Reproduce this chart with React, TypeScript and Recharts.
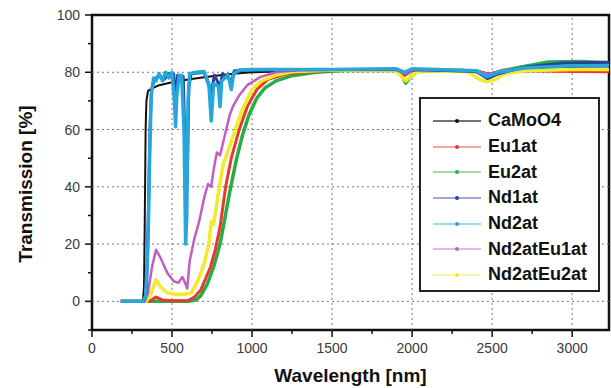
import React from 'react';
import { LineChart, Line, XAxis, YAxis, Legend, ReferenceLine, ReferenceArea } from 'recharts';

// wavelength [nm], transmission [%]
const caMoO4 = [
  [180, 0], [300, 0], [318, 0], [325, 5], [330, 30], [335, 60], [340, 70], [350, 73.5], [380, 74.5],
  [420, 75.5], [500, 76.5], [600, 77.5], [700, 78.3], [800, 79], [900, 79.6], [1000, 80], [1200, 80.4],
  [1500, 80.6], [1900, 80.8], [1950, 80], [2000, 80.8], [2400, 80.6], [2480, 79.5], [2560, 80.5],
  [2700, 81.2], [2900, 81.8], [3230, 82],
];
const eu1at = [
  [180, 0], [360, 0], [400, 1.5], [440, 0.5], [500, 0.2], [600, 0.3], [640, 1.5], [680, 4], [710, 8],
  [740, 12], [770, 18], [800, 26], [835, 40], [870, 50], [920, 60], [970, 68], [1030, 74], [1100, 77.5],
  [1200, 79.2], [1300, 80], [1500, 80.6], [1900, 80.7], [1955, 79], [2000, 80.6], [2400, 80.3],
  [2480, 78.5], [2560, 80], [2700, 80.5], [3000, 80.3], [3230, 80.2],
];
const eu2at = [
  [180, 0], [600, 0], [650, 0.5], [680, 2], [720, 6], [760, 12], [800, 20], [830, 29], [860, 38],
  [900, 49], [940, 58], [980, 65], [1030, 71], [1080, 74.5], [1150, 77], [1250, 78.8], [1400, 80],
  [1600, 80.7], [1900, 80.6], [1935, 79], [1960, 76.2], [1990, 78.5], [2030, 80.3], [2300, 80.7],
  [2400, 80.2], [2480, 79], [2560, 80.5], [2700, 82], [2850, 83.6], [3050, 83.8], [3230, 83.3],
];
const nd1at = [
  [180, 0], [325, 0], [340, 3], [352, 30], [362, 60], [372, 74], [390, 77.5], [420, 79], [450, 77.5],
  [480, 79.5], [510, 79.5], [522, 71], [535, 79], [570, 78.5], [585, 45], [595, 42], [605, 75],
  [620, 79.5], [700, 80], [745, 73], [765, 79], [800, 75], [815, 79.5], [870, 77], [890, 80.5],
  [1000, 80.8], [1500, 81], [1900, 81], [1955, 80], [2000, 81], [2400, 80.3], [2470, 77.8],
  [2540, 79.5], [2700, 81.8], [2950, 83.2], [3230, 83.5],
];
const nd2at = [
  [180, 0], [320, 0], [335, 2], [350, 20], [360, 50], [370, 72], [385, 78], [400, 77], [420, 79.5],
  [440, 77], [460, 80], [480, 78], [500, 80], [515, 70], [522, 61], [530, 72], [545, 79], [560, 79],
  [575, 60], [585, 20], [592, 30], [600, 70], [610, 79.5], [650, 80], [700, 80.3], [730, 76],
  [745, 63], [760, 76], [790, 75], [800, 68], [810, 77], [850, 79], [870, 74], [885, 79.5],
  [920, 80.8], [1000, 81], [1500, 81], [1900, 81.2], [1955, 80], [2000, 81.2], [2400, 80.5],
  [2470, 78.5], [2540, 80], [2700, 81.5], [3000, 82.3], [3230, 82.3],
];
const nd2atEu1at = [
  [180, 0], [330, 0], [350, 3], [375, 12], [400, 18], [430, 15], [470, 10], [510, 7], [540, 6.5],
  [565, 8.5], [585, 6], [595, 4.5], [610, 14], [640, 22], [670, 28], [700, 36], [725, 41], [745, 40],
  [760, 46], [780, 52], [800, 51], [830, 58], [860, 65], [880, 68], [920, 72], [970, 75.5],
  [1050, 78.3], [1150, 80], [1300, 80.8], [1900, 80.8], [1960, 79.5], [2010, 80.8], [2400, 80.7],
  [2480, 79.3], [2560, 80.7], [2700, 81.5], [2900, 82.3], [3230, 82.5],
];
const nd2atEu2at = [
  [180, 0], [340, 0], [370, 3], [400, 7.5], [430, 5], [470, 3], [520, 2.5], [580, 2.5], [620, 3],
  [660, 7], [700, 13], [730, 20], [745, 28], [760, 27], [790, 38], [820, 48], [835, 50], [860, 54],
  [895, 60], [940, 67], [1000, 74], [1060, 77], [1150, 79], [1250, 80.2], [1500, 80.8], [1900, 80.5],
  [1960, 77], [2010, 79.5], [2060, 80.5], [2350, 80.2], [2420, 77.5], [2470, 76.7], [2520, 77.5],
  [2580, 79.5], [2700, 80.5], [3000, 81], [3230, 81],
];

const seriesNames = ['CaMoO4', 'Eu1at', 'Eu2at', 'Nd1at', 'Nd2at', 'Nd2atEu1at', 'Nd2atEu2at'];
const seriesData = [caMoO4, eu1at, eu2at, nd1at, nd2at, nd2atEu1at, nd2atEu2at];
const seriesColors = ['#111111', '#e63a2e', '#27ad48', '#2a3f9e', '#27a6dc', '#c25ec2', '#f2ea2a'];
const seriesWidths = [2, 3, 3.5, 3, 3.5, 2.5, 3.5];
// draw order, last on top
const drawOrder = [0, 2, 1, 6, 5, 3, 4];

const xTicks = [0, 250, 500, 750, 1000, 1250, 1500, 1750, 2000, 2250, 2500, 2750, 3000];
const yTicks = [-10, 0, 10, 20, 30, 40, 50, 60, 70, 80, 90, 100];
const xGrid = [500, 1000, 1500, 2000, 2500, 3000];
const yGrid = [0, 20, 40, 60, 80];

const FONT = '"Liberation Sans", Arial, sans-serif';

const XTick = (props: any) => {
  const { x, y, payload } = props;
  const major = payload.value % 500 === 0;
  return (
    <g>
      <line x1={x} x2={x} y1={y} y2={y + (major ? 7 : 4)} stroke="#111" strokeWidth={1.5} />
      {major && (
        <text x={x} y={y + 23} textAnchor="middle" fontSize={14} fill="#3a3a3a" fontFamily={FONT}>
          {payload.value}
        </text>
      )}
    </g>
  );
};

const YTick = (props: any) => {
  const { x, y, payload } = props;
  const major = payload.value >= 0 && payload.value % 20 === 0;
  return (
    <g>
      <line x1={x - (major ? 7 : 4)} x2={x} y1={y} y2={y} stroke="#111" strokeWidth={1.5} />
      {major && (
        <text x={x - 12} y={y + 5} textAnchor="end" fontSize={14} fill="#3a3a3a" fontFamily={FONT}>
          {payload.value}
        </text>
      )}
    </g>
  );
};

const LegendBox = () => (
  <div
    style={{
      boxSizing: 'border-box',
      width: 181,
      height: 195,
      border: '2px solid #222',
      background: '#fff',
      paddingTop: 9,
      fontFamily: FONT,
    }}
  >
    {seriesNames.map((name, i) => (
      <div key={name} style={{ display: 'flex', alignItems: 'center', height: 25.7 }}>
        <svg width={64} height={12} style={{ marginLeft: 10 }}>
          <line x1={2} x2={50} y1={6} y2={6} stroke={i === 0 ? '#444' : seriesColors[i]} strokeOpacity={i === 0 ? 1 : 0.6} strokeWidth={1.5} />
          <circle cx={26} cy={6} r={2} fill={seriesColors[i]} />
        </svg>
        <span style={{ fontWeight: 'bold', fontSize: 18, color: '#111', marginLeft: -7 }}>{name}</span>
      </div>
    ))}
  </div>
);

export default function App() {
  return (
    <div style={{ position: 'absolute', left: 0, top: 0, background: '#fff' }}>
      <LineChart width={611} height={388} margin={{ top: 15, right: 2, bottom: 0, left: 0 }}>
        <XAxis
          dataKey="w"
          type="number"
          domain={[0, 3230]}
          ticks={xTicks}
          interval={0}
          tickSize={0}
          tickMargin={0}
          tickLine={false}
          axisLine={false}
          height={58}
          tick={<XTick />}
          label={{
            content: (p: any) => (
              <text
                x={p.viewBox.x + p.viewBox.width / 2}
                y={p.viewBox.y + 52}
                textAnchor="middle"
                fontSize={19}
                fontWeight="bold"
                fill="#111"
                fontFamily={FONT}
              >
                Wavelength [nm]
              </text>
            ),
          }}
        />
        <YAxis
          type="number"
          domain={[-10, 100]}
          ticks={yTicks}
          interval={0}
          tickSize={0}
          tickMargin={0}
          tickLine={false}
          axisLine={false}
          width={92}
          tick={<YTick />}
          label={{
            content: (p: any) => {
              const cx = p.viewBox.x + 25;
              const cy = 184;
              return (
                <text
                  x={cx}
                  y={cy}
                  transform={`rotate(-90 ${cx} ${cy})`}
                  textAnchor="middle"
                  dominantBaseline="central"
                  fontSize={19}
                  fontWeight="bold"
                  fill="#111"
                  fontFamily={FONT}
                >
                  Transmission [%]
                </text>
              );
            },
          }}
        />
        {xGrid.map((v) => (
          <ReferenceLine key={'gx' + v} x={v} stroke="#777" strokeDasharray="2 3" strokeWidth={1} />
        ))}
        {yGrid.map((v) => (
          <ReferenceLine key={'gy' + v} y={v} stroke="#777" strokeDasharray="2 3" strokeWidth={1} />
        ))}
        {drawOrder.map((i) => (
          <Line
            key={seriesNames[i]}
            name={seriesNames[i]}
            data={seriesData[i].map(([w, t]) => ({ w, t }))}
            dataKey="t"
            type="linear"
            stroke={seriesColors[i]}
            strokeWidth={seriesWidths[i]}
            strokeLinejoin="round"
            dot={false}
            activeDot={false}
            isAnimationActive={false}
          />
        ))}
        <ReferenceArea x1={0} x2={3230} y1={-10} y2={100} fill="none" stroke="#111" strokeWidth={2.5} />
        <Legend
          layout="vertical"
          align="center"
          verticalAlign="middle"
          content={<LegendBox />}
          wrapperStyle={{ left: 419, top: 97, width: 181, height: 195 }}
        />
      </LineChart>
    </div>
  );
}
